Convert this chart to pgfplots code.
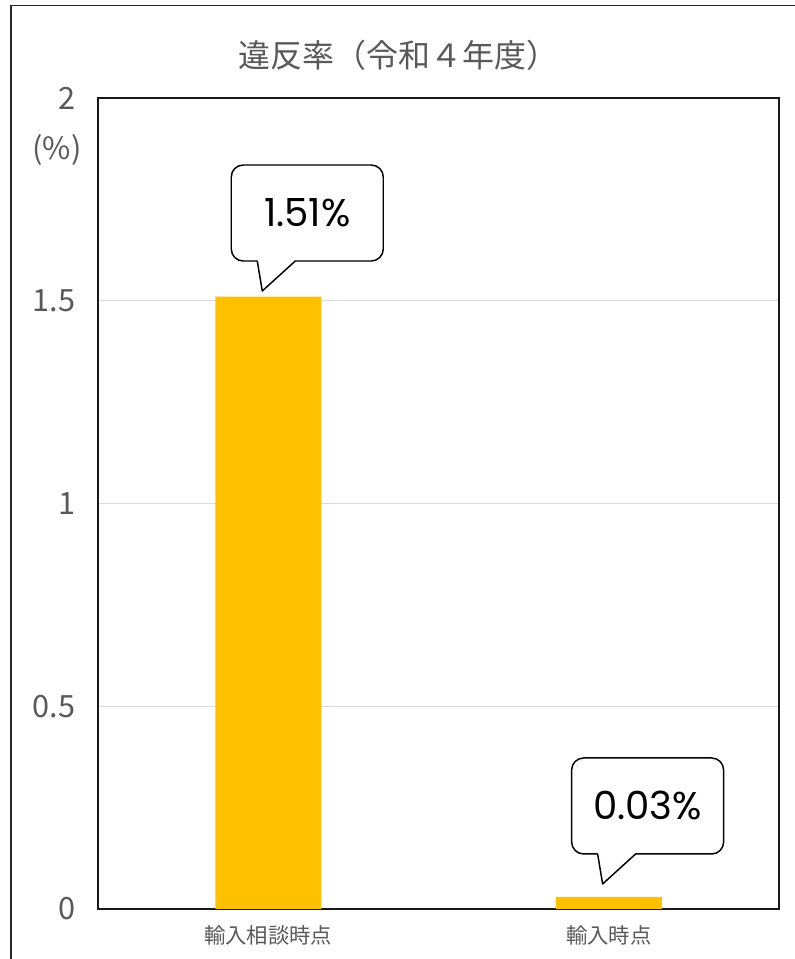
\documentclass[border=0pt]{standalone}
\usepackage{fontspec}
\setmainfont{Noto Sans CJK JP}
\newfontfamily\pop{Poppins}
\usepackage{pgfplots}
\pgfplotsset{compat=1.18}
\definecolor{txtgray}{HTML}{595959}
\definecolor{barcol}{HTML}{FFC000}
\definecolor{gridcol}{HTML}{D9D9D9}
\newcommand\callout[2]{%
\begin{scope}[shift={(#1)}]
\draw[line width=1.1pt, fill=white, line join=round] (-3.75pt,22.5pt) -- (0,0) -- (24.75pt,22.5pt) [rounded corners=9pt] -- (90.75pt,22.5pt) -- (90.75pt,94.5pt) -- (-23.25pt,94.5pt) -- (-23.25pt,22.5pt) -- (-3.75pt,22.5pt);
\node[font=\pop\fontsize{29}{32}\selectfont] at (33.75pt,58.5pt) {#2};
\end{scope}}
\begin{document}
\begin{tikzpicture}
\useasboundingbox (0,0) rectangle (595.5pt,719.25pt);
\draw[line width=1.1pt, black!85] (8.25pt,-2pt) -- (8.25pt,715.1pt) -- (598pt,715.1pt);
\node[txtgray, font=\fontsize{24}{28}\selectfont] at (298.5pt,678pt) {違反率（令和４年度）};
\node[txtgray, font=\fontsize{23}{26}\selectfont] at (42.75pt,606.75pt) {(\%)};
\begin{axis}[at={(73.5pt,37.5pt)}, anchor=south west, scale only axis,
  width=510.75pt, height=608.25pt,
  ybar, bar width=79.5pt, xmin=-0.5, xmax=1.5, ymin=0, ymax=2,
  xtick={0,1}, xticklabels={輸入相談時点,輸入時点}, ytick={0,0.5,1,1.5,2},
  major tick length=0pt,
  ymajorgrids, grid style={gridcol, line width=0.8pt},
  axis line style={black!90, line width=0.9pt},
  /pgf/number format/assume math mode=true,
  yticklabel style={txtgray, font=\fontsize{23}{26}\selectfont, anchor=east, inner sep=0pt, xshift=-17pt},
  xticklabel style={txtgray, font=\fontsize{16}{19}\selectfont, anchor=north, inner sep=0pt, yshift=-12pt},
]
\addplot[fill=barcol, draw=none] coordinates {(0,1.51) (1,0.03)};
\coordinate (t1) at (axis cs:-0.0176,1.524);
\coordinate (t2) at (axis cs:0.982,0.0617);
\end{axis}
\callout{t1}{1.51\%}
\callout{t2}{0.03\%}
\end{tikzpicture}
\end{document}
